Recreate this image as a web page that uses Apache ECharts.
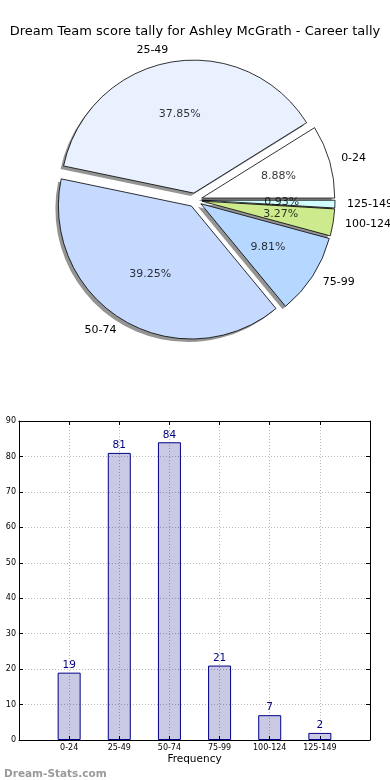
<!DOCTYPE html>
<html>
<head>
<meta charset="utf-8">
<script src="https://cdn.jsdelivr.net/npm/echarts@6/dist/echarts.min.js"></script>
<style>html,body{margin:0;padding:0;background:#fff}#c{width:390px;height:780px}</style>
</head>
<body>
<div id="c"></div>
<script>
const titleText = 'Dream Team score tally for Ashley McGrath - Career tally';
const categories = ['0-24', '25-49', '50-74', '75-99', '100-124', '125-149'];
const frequencies = [19, 81, 84, 21, 7, 2];
const pieColors = ['#ffffff', '#eaf1fe', '#c6d9fe', '#b6d7ff', '#cdea8c', '#d1fdfd'];
const yTicks = [0, 10, 20, 30, 40, 50, 60, 70, 80, 90];

const R = 133;
const CX = 195, CY = 200;
const OFFSET = 7;
const FONT = 'DejaVu Sans';

const total = frequencies.reduce((a, b) => a + b, 0);
const pieData = categories.map((c, i) => ({
  name: c, value: frequencies[i], selected: true,
  itemStyle: { color: pieColors[i] }
}));
const shadowData = categories.map((c, i) => ({ name: c, value: frequencies[i], selected: true }));
// percent labels placed at mid-angle of each slice, 0.6 R from the exploded centre
let cum = 0;
const pctPoints = frequencies.map((v) => {
  const mid = cum + v / 2; cum += v;
  return { value: [0.6 + OFFSET / R, mid], pct: (v / total * 100).toFixed(2) + '%' };
});
const barData = frequencies.map((v, i) => [i, v]);

const chart = echarts.init(document.getElementById('c'), null, { renderer: 'canvas' });
chart.setOption({
  animation: false,
  backgroundColor: '#ffffff',
  title: [
    { text: titleText, left: 'center', top: 20,
      textStyle: { fontFamily: FONT, fontSize: 13, fontWeight: 'normal', color: '#000' } },
    { text: 'Dream-Stats.com', left: -1, top: 764,
      textStyle: { fontFamily: FONT, fontSize: 10.5, fontWeight: 'bold', color: '#9a9a9a' } }
  ],
  polar: { center: [CX, CY], radius: R },
  angleAxis: { type: 'value', min: 0, max: total, startAngle: 0, clockwise: false,
    axisLine: { show: false }, axisTick: { show: false }, axisLabel: { show: false }, splitLine: { show: false } },
  radiusAxis: { type: 'value', min: 0, max: 1,
    axisLine: { show: false }, axisTick: { show: false }, axisLabel: { show: false }, splitLine: { show: false } },
  grid: { left: 19, right: 20, top: 421, bottom: 40, containLabel: false },
  xAxis: [
    { type: 'value', min: -1, max: 6, interval: 1,
      name: 'Frequency', nameLocation: 'middle', nameGap: 14,
      nameTextStyle: { fontFamily: FONT, fontSize: 10.5, color: '#000' },
      axisLine: { show: true, onZero: false, lineStyle: { color: '#000', width: 1 } },
      axisTick: { show: true, inside: true, length: 4, lineStyle: { color: '#000' } },
      axisLabel: { fontFamily: FONT, fontSize: 8, color: '#000', margin: 4,
        formatter: v => (v >= 0 && v < categories.length && Number.isInteger(v)) ? categories[v] : '' },
      splitLine: { show: true, lineStyle: { color: '#b8b8b8', type: [1, 2], width: 1 } }
    },
    { type: 'value', position: 'top', min: -1, max: 6, interval: 1,
      axisLine: { show: true, onZero: false, lineStyle: { color: '#000', width: 1 } },
      axisTick: { show: true, inside: true, length: 4, lineStyle: { color: '#000' } },
      axisLabel: { show: false }, splitLine: { show: false }
    }
  ],
  yAxis: [
    { type: 'value', min: 0, max: 90, interval: 10,
      axisLine: { show: true, onZero: false, lineStyle: { color: '#000', width: 1 } },
      axisTick: { show: true, inside: true, length: 4, lineStyle: { color: '#000' } },
      axisLabel: { fontFamily: FONT, fontSize: 8, color: '#000', margin: 3,
        formatter: v => yTicks.includes(v) ? String(v) : '' },
      splitLine: { show: true, lineStyle: { color: '#b8b8b8', type: [1, 2], width: 1 } }
    },
    { type: 'value', position: 'right', min: 0, max: 90, interval: 10,
      axisLine: { show: true, onZero: false, lineStyle: { color: '#000', width: 1 } },
      axisTick: { show: true, inside: true, length: 4, lineStyle: { color: '#000' } },
      axisLabel: { show: false }, splitLine: { show: false }
    }
  ],
  series: [
    {
      // shadow layer
      type: 'pie', center: [CX - 3, CY + 3], radius: R,
      startAngle: 0, clockwise: false,
      selectedMode: 'multiple', selectedOffset: OFFSET,
      silent: true, emphasis: { disabled: true },
      itemStyle: { color: 'rgba(0,0,0,0.42)', borderWidth: 0 },
      label: { show: false }, labelLine: { show: false },
      data: shadowData, z: 1
    },
    {
      type: 'pie', center: [CX, CY], radius: R,
      startAngle: 0, clockwise: false,
      selectedMode: 'multiple', selectedOffset: OFFSET,
      avoidLabelOverlap: false,
      emphasis: { disabled: true },
      itemStyle: { borderColor: '#000', borderWidth: 0.8 },
      label: { show: true, position: 'outside', fontFamily: FONT, fontSize: 11, color: '#000',
        distanceToLabelLine: 0, formatter: '{b}' },
      labelLine: { show: false, length: 12, length2: 0 },
      data: pieData,
      z: 2
    },
    {
      type: 'scatter', coordinateSystem: 'polar', symbolSize: 0, silent: true,
      itemStyle: { color: '#000' },
      label: { show: true, position: 'inside', fontFamily: FONT, fontSize: 11, color: '#000',
        textBorderWidth: 0, formatter: p => pctPoints[p.dataIndex].pct },
      data: pctPoints.map(p => p.value),
      z: 3
    },
    {
      type: 'bar', xAxisIndex: 0, yAxisIndex: 0, barWidth: 23,
      itemStyle: { color: 'rgba(0,0,128,0.21)', borderColor: '#000088', borderWidth: 1 },
      label: { show: true, position: 'top', distance: 2, fontFamily: FONT, fontSize: 10.5, color: '#000080',
        formatter: p => String(p.value[1]) },
      emphasis: { disabled: true },
      data: barData
    }
  ]
});
</script>
</body>
</html>
